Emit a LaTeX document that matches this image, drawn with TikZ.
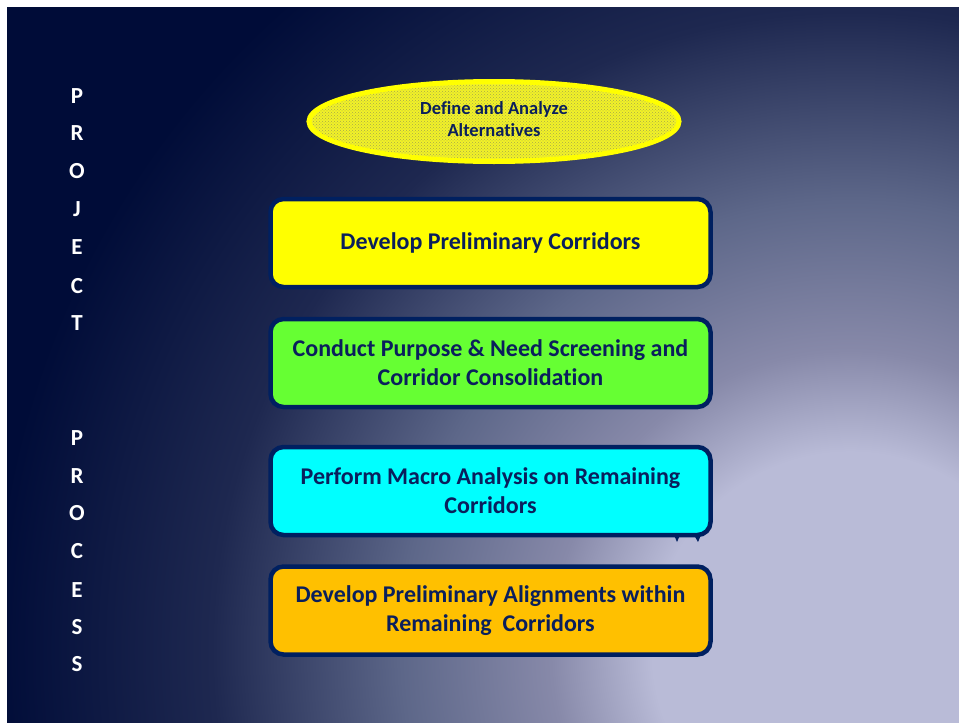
\documentclass[tikz,border=0pt]{standalone}
\usepackage{fontspec}
\setmainfont{Carlito}[Ligatures=NoCommon]
\usetikzlibrary{shapes.geometric,patterns}
\definecolor{navy}{HTML}{002060}
\definecolor{txt}{HTML}{0A1F5C}
\definecolor{bgA}{HTML}{B9BBD7}
\definecolor{bgB}{HTML}{8789A9}
\definecolor{bgC}{HTML}{5D6789}
\definecolor{bgD}{HTML}{1E2850}
\definecolor{bgE}{HTML}{000C38}
\definecolor{boxyellow}{HTML}{FFFF00}
\definecolor{boxgreen}{HTML}{66FF33}
\definecolor{boxcyan}{HTML}{00FFFF}
\definecolor{boxorange}{HTML}{FFC000}
\definecolor{ellfill}{HTML}{F2F228}
\definecolor{elldots}{HTML}{A8A848}
\pgfdeclareradialshading{bgshade}{\pgfpoint{0bp}{0bp}}{%
  color(0bp)=(bgA); color(4.5bp)=(bgA); color(6.8bp)=(bgB); color(10.2bp)=(bgC);
  color(14.5bp)=(bgD); color(19.5bp)=(bgE); color(50bp)=(bgE)}
\begin{document}
\begin{tikzpicture}[x=1pt,y=-1pt,
  stepbox/.style={draw=navy, line width=4.5pt, rounded corners=13pt,
    minimum width=440pt, minimum height=88pt, inner sep=0pt,
    align=center, text=txt, font=\fontsize{24}{29}\selectfont\bfseries},
  sideletter/.style={text=white, font=\fontsize{23}{26}\selectfont\bfseries, anchor=base},
  ovalbox/.style={ellipse, draw=boxyellow, line width=5pt, fill=ellfill,
    minimum width=370pt, minimum height=80pt, inner sep=0pt, align=center,
    text=txt, font=\fontsize{18.5}{22}\selectfont\bfseries}]
\useasboundingbox (0,0) rectangle (959,723);
\fill[white] (0,0) rectangle (959,723);
\begin{scope}
  \clip (7,7) rectangle (959,723);
  \fill[bgE] (7,7) rectangle (959,723);
  \shade[shading=bgshade] (850,650) circle (1100);
\end{scope}
% side letters
\foreach \l/\yy [count=\i] in {P/95,R/132,O/170,J/208,E/246,C/285,T/322,P/437,R/475,O/512,C/550,E/589,S/626,S/663}
  \node[sideletter] (s\i) at (77,\yy+8) {\l};
% ellipse
\node[ovalbox] (ell) at (494,121.5) {};
\path[pattern=crosshatch dots, pattern color=elldots] (ell.center) ellipse (182pt and 37pt);
\node[text=txt, font=\fontsize{18.5}{22}\selectfont\bfseries, align=center] (elltext) at (494,119) {Define and Analyze\\Alternatives};
% boxes
\node[stepbox, fill=boxyellow] (b1) at (490.5,243) {Develop Preliminary Corridors};
\node[stepbox, fill=boxgreen] (b2) at (490.5,363) {Conduct Purpose \& Need Screening and\\Corridor Consolidation};
\fill[navy] (674,535) -- (677,542) -- (680,535) -- cycle;
\fill[navy] (694,535) -- (698,542) -- (701,535) -- cycle;
\node[stepbox, fill=boxcyan] (b3) at (490.5,491) {Perform Macro Analysis on Remaining\\Corridors};
\node[stepbox, fill=boxorange] (b4) at (490.5,610.5) {Develop Preliminary Alignments within\\Remaining~~Corridors};
\end{tikzpicture}
\end{document}
